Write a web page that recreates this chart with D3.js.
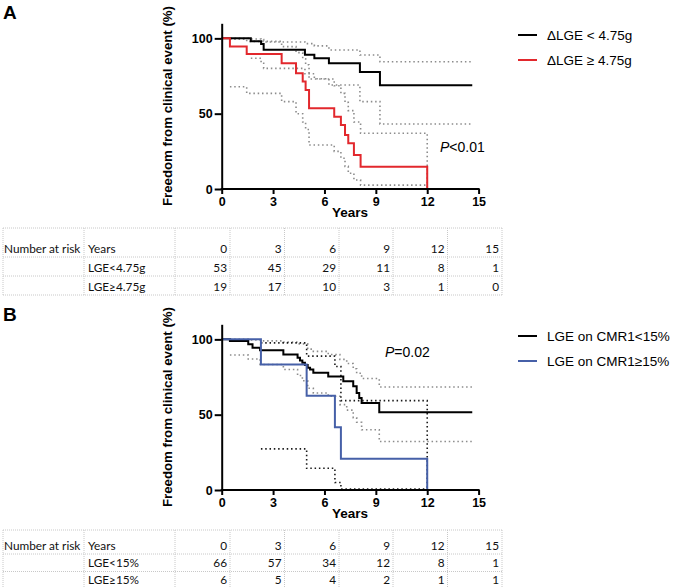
<!DOCTYPE html>
<html><head><meta charset="utf-8">
<script src="https://cdn.jsdelivr.net/npm/d3@7"></script>
<style>body{margin:0;background:#fff}</style>
</head><body>
<svg id="c" width="675" height="587"></svg>
<script>
// ---------- data ----------
const xTicks = [0, 3, 6, 9, 12, 15];
const yTicks = [0, 50, 100];
const riskYears = [0, 3, 6, 9, 12, 15];

// Panel A : ΔLGE
const aLowKM   = [[0,100],[1.7,98.1],[2.3,96.2],[2.45,92.4],[4.86,89.2],[5.41,86.8],[6.26,83.4],[8.07,77.7],[9.24,68.9],[14.63,68.9]];
const aLowUpper= [[0.5,100],[1.7,99.6],[2.3,99.2],[2.45,97.6],[4.86,96.5],[5.41,95],[6.26,92.3],[8.07,89],[9.24,84.5],[14.63,84.5]];
const aLowLower= [[1.7,86.8],[2.3,83.5],[2.45,80.1],[4.86,76.5],[5.41,73.2],[6.26,69],[8.07,58],[9.24,43.2],[14.63,43.2]];
const aHighKM   = [[0,100],[0.48,94.6],[1.46,89.6],[3.5,83.5],[4.34,76.8],[4.73,71.3],[4.9,65.7],[5.1,53.6],[6.57,48],[6.96,42.5],[7.2,35.9],[7.39,30.3],[7.72,22.6],[8.11,14.8],[12,0]];
const aHighUpper= [[0.48,99.4],[1.46,98],[3.5,94.5],[4.34,90.5],[4.73,86.5],[4.9,82.5],[5.1,73],[6.57,68.5],[6.96,63.5],[7.2,57.5],[7.39,52],[7.72,44.5],[8.11,37],[12,0]];
const aHighLower= [[0.48,67.9],[1.46,63.5],[3.5,58],[4.34,50],[4.73,44.5],[4.9,39.5],[5.1,29.2],[6.57,25],[6.96,20.4],[7.2,15],[7.39,10.5],[7.72,6],[8.11,2.6],[12,2.6]];
const aRiskLow  = [53, 45, 29, 11, 8, 1];
const aRiskHigh = [19, 17, 10, 3, 1, 0];

// Panel B : LGE on CMR1
const bLowKM   = [[0,100],[0.48,98.9],[1.55,96.8],[1.8,94.4],[2.24,92.7],[3.6,90],[4.43,87.8],[4.57,86],[4.71,84.4],[4.86,82.9],[5.02,81.1],[5.16,80],[5.35,77.8],[6.22,75.4],[7.1,72.2],[7.68,68.9],[7.88,64.4],[8.03,61.1],[8.17,57.8],[9.2,51.6],[14.63,51.6]];
const bLowUpper= [[0.48,100],[1.55,99.6],[2.24,99],[3.6,98.2],[4.43,97],[5.02,93.5],[5.35,92],[6.22,90],[6.9,86.7],[7.3,84],[7.68,80.5],[7.88,77.5],[8.17,74],[9.2,68.4],[14.63,68.4]];
const bLowLower= [[0.48,89.6],[1.55,87],[2.24,83.3],[3.6,80],[4.43,76],[4.71,72.5],[5.02,67.5],[5.35,64.4],[6.22,62.2],[6.9,56.7],[7.3,53],[7.68,48],[7.88,45],[8.17,40],[9.2,32.2],[14.63,32.2]];
const bHighKM   = [[0,100],[2.29,83.3],[4.96,62.5],[6.61,41.7],[6.96,20.8],[12,0]];
const bHighUpper= [[2.29,97.7],[4.96,88.9],[6.61,82],[6.96,59.3],[12,0]];
const bHighLower= [[2.29,27.3],[4.96,14.4],[6.61,5],[6.96,0.6],[12,0.6]];
const bRiskLow  = [66, 57, 34, 12, 8, 1];
const bRiskHigh = [6, 5, 4, 2, 1, 1];

// ---------- drawing ----------
const svg = d3.select('#c');
const CH = "'Liberation Sans', Arial, Helvetica, sans-serif";
const TB = "Lato, 'Open Sans', sans-serif";
const RED = '#e2282d', BLUE = '#4660a8', GREY = '#8c8c8c';

const x = d3.scaleLinear().domain([0, 15]).range([221.7, 478.6]);

function panel(o) {
  const g = svg.append('g');
  const y = d3.scaleLinear().domain([0, 110]).range([o.y0, o.y0 - 165.7]);
  const line = d3.line().x(d => x(d[0])).y(d => y(d[1])).curve(d3.curveStepAfter);

  // CI dotted lines
  o.cis.forEach(c => {
    g.append('path').attr('d', line(c.data)).attr('fill', 'none')
      .attr('stroke', c.color).attr('stroke-width', 1.6)
      .attr('stroke-dasharray', '1.5,2.8');
  });
  // KM curves
  o.curves.forEach(c => {
    g.append('path').attr('d', line(c.data)).attr('fill', 'none')
      .attr('stroke', c.color).attr('stroke-width', 2);
  });

  // axes
  const xa = g.append('g').attr('transform', `translate(0,${o.y0})`)
    .call(d3.axisBottom(x).tickValues(xTicks).tickSize(5).tickSizeOuter(0).tickPadding(3));
  const ya = g.append('g').attr('transform', `translate(${x(0)},0)`)
    .call(d3.axisLeft(y).tickValues(yTicks).tickSize(7).tickSizeOuter(0).tickPadding(2));
  [xa, ya].forEach(a => {
    a.selectAll('path,line').attr('stroke', '#000').attr('stroke-width', 2);
    a.selectAll('text').attr('font-family', CH).attr('font-weight', 'bold')
      .attr('font-size', 12.5).attr('fill', '#000');
  });
  xa.select('.domain').attr('d', `M${x(0) - 1},0H${x(15) + 1}`);

  // axis titles
  g.append('text').attr('x', 350).attr('y', o.y0 + 28).attr('text-anchor', 'middle')
    .attr('font-family', CH).attr('font-weight', 'bold').attr('font-size', 13.5).text('Years');
  g.append('text').attr('transform', `translate(172,${o.y0 - 83}) rotate(-90)`)
    .attr('text-anchor', 'middle').attr('font-family', CH).attr('font-weight', 'bold')
    .attr('font-size', 13.5).attr('textLength', 200).attr('lengthAdjust', 'spacingAndGlyphs')
    .text('Freedom from clinical event (%)');

  // panel letter
  g.append('text').attr('x', 3).attr('y', o.letterY).attr('font-family', CH)
    .attr('font-weight', 'bold').attr('font-size', 19).text(o.letter);

  // legend
  o.curves.forEach((c, i) => {
    const ly = o.legY + i * 25;
    g.append('line').attr('x1', 518).attr('x2', 537).attr('y1', ly).attr('y2', ly)
      .attr('stroke', c.color).attr('stroke-width', 2);
    g.append('text').attr('x', 547).attr('y', ly + 4.5).attr('font-family', CH)
      .attr('font-size', 13.5).text(c.name);
  });

  // P value
  const pt = g.append('text').attr('x', o.pX).attr('y', o.pY).attr('font-family', CH)
    .attr('font-size', 14);
  pt.append('tspan').attr('font-style', 'italic').text('P');
  pt.append('tspan').text(o.pText);

  // risk table
  const t = g.append('g');
  const colX = [3, 84, 175, 230, 284.5, 339, 393, 447.5, 502];
  const rowY = o.rows;
  const gridC = '#c8c8c8';
  rowY.forEach(ry => t.append('line').attr('x1', colX[0]).attr('x2', colX[colX.length - 1])
    .attr('y1', ry).attr('y2', ry).attr('stroke', gridC).attr('stroke-dasharray', '1,1'));
  colX.forEach(cx => t.append('line').attr('x1', cx).attr('x2', cx)
    .attr('y1', rowY[0]).attr('y2', rowY[rowY.length - 1]).attr('stroke', gridC).attr('stroke-dasharray', '1,1'));
  const tableRows = [
    { a: 'Number at risk', b: 'Years', vals: riskYears },
    { a: '', b: o.rowNames[0], vals: o.riskLow },
    { a: '', b: o.rowNames[1], vals: o.riskHigh }
  ];
  tableRows.forEach((r, i) => {
    const by = rowY[i + 1] - 4.5;
    const txt = (xx, s, anchor) => t.append('text').attr('x', xx).attr('y', by)
      .attr('font-family', TB).attr('font-size', 11.8).attr('text-anchor', anchor).attr('fill', '#111').text(s);
    if (r.a) txt(colX[0] + 1, r.a, 'start');
    txt(colX[1] + 4, r.b, 'start');
    r.vals.forEach((v, j) => txt(colX[j + 3] - 3, v, 'end'));
  });
}

panel({
  y0: 189, letter: 'A', letterY: 19, legY: 35, pX: 440, pY: 152, pText: '<0.01',
  rows: [228, 257, 276, 295], rowNames: ['LGE<4.75g', 'LGE\u22654.75g'],
  riskLow: aRiskLow, riskHigh: aRiskHigh,
  cis: [
    { data: aLowUpper, color: GREY }, { data: aLowLower, color: GREY },
    { data: aHighUpper, color: GREY }, { data: aHighLower, color: GREY }
  ],
  curves: [
    { data: aLowKM, color: '#000', name: '\u0394LGE < 4.75g' },
    { data: aHighKM, color: RED, name: '\u0394LGE \u2265 4.75g' }
  ]
});

panel({
  y0: 490, letter: 'B', letterY: 321, legY: 336, pX: 385, pY: 357, pText: '=0.02',
  rows: [530, 554, 571.5, 588.5], rowNames: ['LGE<15%', 'LGE\u226515%'],
  riskLow: bRiskLow, riskHigh: bRiskHigh,
  cis: [
    { data: bLowUpper, color: GREY }, { data: bLowLower, color: GREY },
    { data: bHighUpper, color: '#1a1a1a' }, { data: bHighLower, color: '#1a1a1a' }
  ],
  curves: [
    { data: bLowKM, color: '#000', name: 'LGE on CMR1<15%' },
    { data: bHighKM, color: BLUE, name: 'LGE on CMR1\u226515%' }
  ]
});
</script>
</body></html>
